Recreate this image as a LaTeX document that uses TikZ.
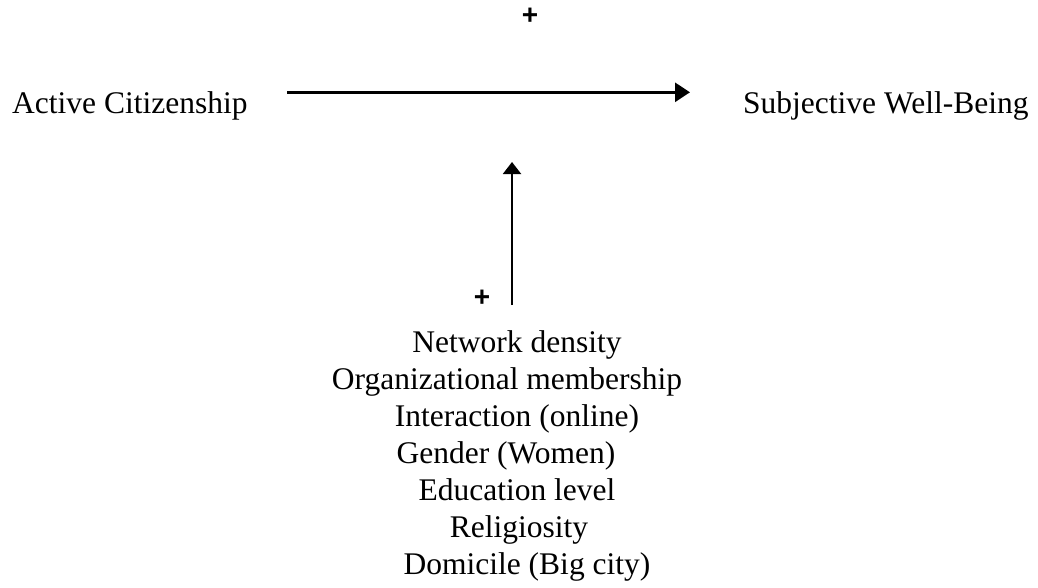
\documentclass[tikz,border=0pt]{standalone}
\usepackage{fontspec}
\setmainfont{Liberation Serif}
\newfontfamily\plusfont{Liberation Sans}
\usetikzlibrary{arrows.meta}
\tikzset{
  lbl/.style={inner sep=0pt, font=\fontsize{31.5}{37}\selectfont},
  sign/.style={inner sep=0pt, font=\plusfont\bfseries\fontsize{28}{28}\selectfont},
  harrow/.style={line width=2.7pt, -{Triangle[length=15pt,width=19pt]}},
  varrow/.style={line width=2pt, -{Triangle[length=12pt,width=18pt]}}
}
\begin{document}
\begin{tikzpicture}[x=1pt,y=-1pt]
\useasboundingbox (0,0) rectangle (1038,587);
\node[lbl, anchor=base west] (ac) at (12,113) {Active Citizenship};
\node[lbl, anchor=base west] (swb) at (743,113) {Subjective Well-Being};
\coordinate (hs) at (287,92.3);
\coordinate (he) at (690,92.3);
\draw[harrow] (hs) -- (he);
\node[sign] (p1) at (530,16) {+};
\coordinate (vs) at (512,305);
\coordinate (ve) at (512,162);
\draw[varrow] (vs) -- (ve);
\node[sign] (p2) at (482,298) {+};
\node[lbl, anchor=north, align=center] (mods) at (517,330.5) {Network density\\
Organizational membership\rule{20pt}{0pt}\\
Interaction (online)\\
Gender (Women)\rule{22pt}{0pt}\\
Education level\\
\rule{4pt}{0pt}Religiosity\\
\rule{20pt}{0pt}Domicile (Big city)};
\end{tikzpicture}
\end{document}
